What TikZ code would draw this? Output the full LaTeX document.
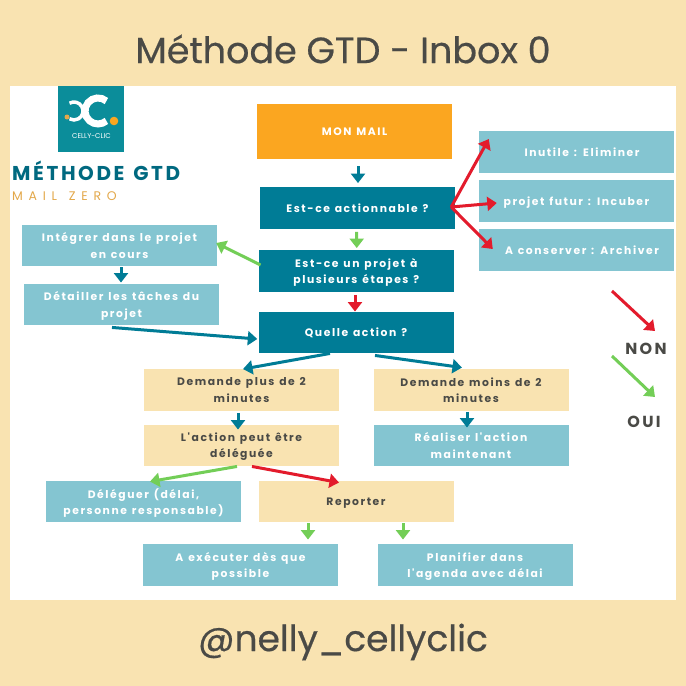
\documentclass[tikz,border=0pt]{standalone}
\usepackage{fontspec}
\usepackage{tikz}
\usetikzlibrary{arrows.meta, calc}
\setmainfont{Poppins}
\newfontfamily\titlefont[FakeBold=0.5]{Poppins}
\newfontfamily\spacedfont[LetterSpace=14.5, WordSpace=1.25]{Poppins}
\newfontfamily\headfont[LetterSpace=13, WordSpace=1.3]{Poppins}
\newfontfamily\widefont[LetterSpace=46, WordSpace=1.3]{Poppins}
\definecolor{creamback}{HTML}{F9E3B1}
\definecolor{tealbox}{HTML}{007C96}
\definecolor{bluebox}{HTML}{84C5D1}
\definecolor{orangebox}{HTML}{FBA620}
\definecolor{darktext}{HTML}{4A4A46}
\definecolor{arrowred}{HTML}{E31B2C}
\definecolor{arrowgreen}{HTML}{73CE57}
\definecolor{logoteal}{HTML}{0B8D9A}
\definecolor{gold}{HTML}{E3A84A}
\tikzset{
    flowbox/.style={minimum width=195pt, minimum height=41.5pt, inner sep=0pt, align=center, text depth=0pt, font=\spacedfont\bfseries\fontsize{10.8}{16.2}\selectfont},
    darkbox/.style={flowbox, fill=tealbox, text=white},
    lightbox/.style={flowbox, fill=bluebox, text=white},
    creambox/.style={flowbox, fill=creamback, text=darktext},
    flowarrow/.style={line width=3pt, -{Triangle[width=14pt, length=9.5pt]}},
    tealarrow/.style={flowarrow, draw=tealbox},
    redarrow/.style={flowarrow, draw=arrowred},
    greenarrow/.style={flowarrow, draw=arrowgreen},
    legendtext/.style={text=darktext, font=\spacedfont\bfseries\fontsize{16}{18}\selectfont}
}
\begin{document}
\begin{tikzpicture}[x=1pt, y=-1pt]
\useasboundingbox (0,0) rectangle (686,686);
\fill[creamback] (0,0) rectangle (686,686);
\fill[white] (10,86) rectangle (676,600);
\node[text=darktext, font=\titlefont\fontsize{36.5}{40}\selectfont] (title) at (343,49) {Méthode GTD - Inbox 0};
\node[text=darktext, font=\titlefont\fontsize{36}{40}\selectfont] (handle) at (343,642) {@nelly\_cellyclic};
% logo
\fill[logoteal] (58,86) rectangle (124,152);
\draw[white, line width=7pt] (106.4,101) arc[start angle=-50, end angle=-310, radius=13];
\draw[white, line width=3.5pt] (69.5,103.2) arc[start angle=-120, end angle=120, radius=9];
\fill[orangebox] (114,121) circle [radius=4.3];
\fill[gold] (67,117) circle [radius=2.5];
\node[text=white, font=\fontsize{7}{8}\selectfont] (logotext) at (91.5,136) {CELLY-CLIC};
\node[anchor=west, inner sep=0pt, text=tealbox!85!black, font=\headfont\bfseries\fontsize{20}{22}\selectfont] (gtd) at (12,171) {MÉTHODE GTD};
\node[anchor=west, inner sep=0pt, text=gold, font=\widefont\fontsize{12.5}{14}\selectfont] (zero) at (12,196) {MAIL ZERO};
% boxes
\node[flowbox, fill=orangebox, text=white, minimum height=55pt] (mail) at (354.5,131.5) {MON MAIL};
\node[darkbox] (action) at (357.5,208) {Est-ce actionnable ?};
\node[darkbox] (projet) at (356.25,271) {Est-ce un projet à\\plusieurs étapes ?};
\node[darkbox] (quelle) at (356,332.5) {Quelle action ?};
\node[lightbox] (inutile) at (576.5,152) {\hspace*{11pt}Inutile : Eliminer};
\node[lightbox] (futur) at (576.5,201) {projet futur : Incuber};
\node[lightbox] (conserver) at (576.5,250) {\hspace*{11pt}A conserver : Archiver};
\node[lightbox] (integrer) at (119.5,245.5) {Intégrer dans le projet\\en cours};
\node[lightbox] (detailler) at (121.5,304.5) {Détailler les tâches du\\projet};
\node[creambox] (plus) at (241.5,390) {Demande plus de 2\\minutes};
\node[creambox] (delegue) at (241.5,445.5) {L'action peut être\\déléguée};
\node[lightbox] (deleguer) at (143.5,501.5) {Déléguer (délai,\\personne responsable)};
\node[creambox] (reporter) at (356,501.5) {Reporter};
\node[lightbox] (executer) at (240.5,565) {A exécuter dès que\\possible};
\node[creambox] (moins) at (471,390) {Demande moins de 2\\minutes};
\node[lightbox] (realiser) at (471,445.5) {Réaliser l'action\\maintenant};
\node[lightbox] (planifier) at (475,565) {Planifier dans\\l'agenda avec délai};
% legend
\node[legendtext] (non) at (646,349) {NON};
\node[legendtext] (oui) at (644,422) {OUI};
\coordinate (nonstart) at (612,291);
\coordinate (nonend) at (655,331);
\coordinate (ouistart) at (612,356);
\coordinate (ouiend) at (655,397);
\draw[redarrow] (nonstart) -- (nonend);
\draw[greenarrow] (ouistart) -- (ouiend);
% arrows
\draw[tealarrow] ($(mail.south)+(3.5,7)$) -- ($(action.north)+(0.5,-4)$);
\draw[greenarrow] ($(action.south)+(-0.8,3)$) -- ($(projet.north)+(0.5,-2)$);
\draw[redarrow] ($(projet.south)+(-1.25,3)$) -- ($(quelle.north)+(-1,0)$);
\coordinate (fork) at ($(action.east)+(-4,-1)$);
\draw[redarrow] (fork) -- ($(inutile.west)+(10,-13)$);
\draw[redarrow] (fork) -- ($(futur.west)+(18,2)$);
\draw[redarrow] (fork) -- ($(conserver.west)+(14,-1)$);
\draw[greenarrow] ($(projet.west)+(2,-6)$) -- ($(integrer.east)+(-1,-2.5)$);
\draw[tealarrow] ($(integrer.south)+(1.5,1)$) -- ($(detailler.north)+(-0.5,-1)$);
\draw[tealarrow] ($(detailler.south)+(-9.5,2)$) -- ($(quelle.west)+(-1,6.5)$);
\draw[tealarrow] ($(quelle.south)+(-26,0)$) -- ($(plus.north)+(1.5,0)$);
\draw[tealarrow] ($(quelle.south)+(19,2)$) -- ($(moins.north)+(-9,-1.5)$);
\draw[tealarrow] ($(plus.south)+(-3.5,2)$) -- ($(delegue.north)+(-3.5,5)$);
\draw[tealarrow] ($(moins.south)+(-4,1)$) -- ($(realiser.north)+(-4,3)$);
\draw[greenarrow] ($(delegue.south)+(-4.5,0)$) -- ($(deleguer.north)+(6.5,1)$);
\draw[redarrow] ($(delegue.south)+(10.5,0)$) -- ($(reporter.north)+(-17,2)$);
\draw[greenarrow] ($(reporter.south)+(-48,1)$) -- ($(executer.north)+(67.5,-4.5)$);
\draw[greenarrow] ($(reporter.south)+(47,1)$) -- ($(planifier.north)+(-72,-4.5)$);
\end{tikzpicture}
\end{document}
